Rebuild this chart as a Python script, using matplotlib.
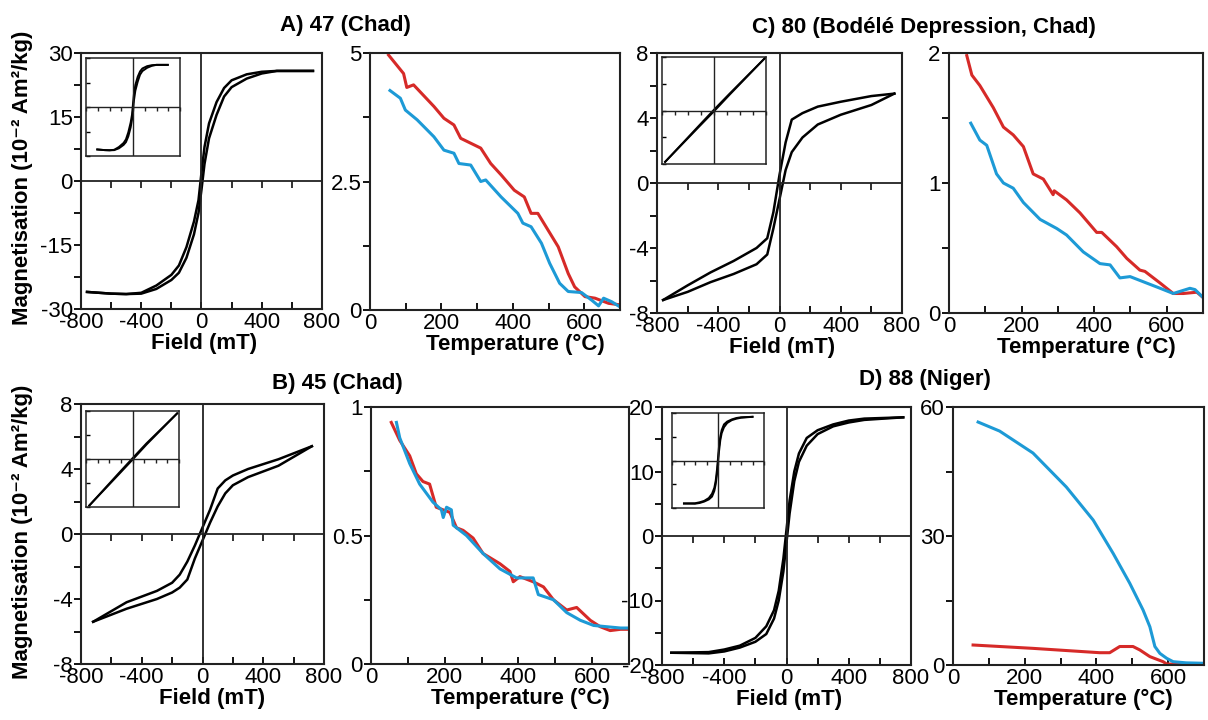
import matplotlib
matplotlib.use('Agg')
import matplotlib.pyplot as plt
from matplotlib.ticker import MultipleLocator, StrMethodFormatter, NullLocator

plt.rcParams['font.family'] = ['Liberation Sans', 'DejaVu Sans']
plt.rcParams['axes.unicode_minus'] = False

RED = '#d62a28'
BLUE = '#1d9ad6'

# ---------------- data: hysteresis loops (field mT, magnetisation 1e-2 Am2/kg) ----------
A_field = [-760, -600, -500, -400, -300, -200, -150, -100, -50, -20, 0, 20, 50, 100, 150, 200, 300, 400, 500, 740]
A_upper = [-26.0, -26.4, -26.5, -26.2, -24.5, -22.0, -19.8, -15.5, -9.5, -4.5, 2.0, 8.0, 13.5, 18.5, 21.8, 23.6, 25.0, 25.6, 25.8, 25.8]
A_lower = [-26.0, -26.4, -26.5, -26.4, -25.3, -23.2, -21.5, -18.0, -12.5, -7.5, -2.0, 4.0, 10.0, 15.5, 19.8, 22.0, 24.0, 25.2, 25.8, 25.8]

B_field = [-720, -500, -300, -200, -150, -100, -50, 0, 50, 100, 150, 200, 300, 500, 720]
B_upper = [-5.4, -4.2, -3.5, -3.0, -2.5, -1.7, -0.7, 0.4, 1.5, 2.8, 3.3, 3.6, 4.0, 4.6, 5.4]
B_lower = [-5.4, -4.6, -4.0, -3.6, -3.3, -2.8, -1.5, -0.4, 0.7, 1.7, 2.5, 3.0, 3.5, 4.2, 5.4]

C_field = [-760, -600, -450, -300, -150, -80, -40, 0, 40, 80, 150, 250, 400, 600, 750]
C_upper = [-7.2, -6.3, -5.5, -4.8, -4.0, -3.4, -1.8, 0.5, 2.5, 3.9, 4.3, 4.7, 5.0, 5.35, 5.5]
C_lower = [-7.2, -6.7, -6.1, -5.6, -5.0, -4.4, -2.8, -1.0, 0.8, 1.9, 2.8, 3.6, 4.2, 4.8, 5.5]

D_field = [-740, -500, -400, -300, -200, -130, -80, -50, -20, 0, 20, 50, 80, 130, 200, 300, 400, 500, 750]
D_upper = [-18.1, -18.0, -17.6, -17.0, -15.8, -14.0, -11.5, -8.5, -3.5, 1.0, 5.5, 10.0, 12.8, 15.2, 16.4, 17.3, 17.9, 18.2, 18.4]
D_lower = [-18.1, -18.2, -17.9, -17.3, -16.4, -15.2, -12.8, -10.0, -5.5, -1.0, 3.5, 8.5, 11.5, 14.0, 15.8, 17.0, 17.6, 18.0, 18.4]

# inset (uncorrected) loops, relative units
B_in_field = [-930, -300, 0, 300, 960]
B_in_upper = [-19.4, -6.0, 0.3, 6.5, 19.0]
B_in_lower = [-19.4, -6.5, -0.3, 6.0, 19.0]
C_in_field = [-940, -300, 0, 300, 980]
C_in_upper = [-19.2, -5.9, 0.3, 6.3, 19.6]
C_in_lower = [-19.2, -6.3, -0.3, 5.9, 19.6]

# ---------------- data: thermomagnetic curves (temperature C, magnetisation) -------------
A_red_T = [52, 94, 103, 122, 179, 207, 235, 254, 310, 338, 367, 404, 432, 451, 470, 527, 555, 573, 602, 630, 668, 700]
A_red_M = [4.96, 4.6, 4.33, 4.38, 3.96, 3.73, 3.6, 3.34, 3.15, 2.85, 2.63, 2.33, 2.2, 1.88, 1.88, 1.23, 0.71, 0.45, 0.26, 0.23, 0.13, 0.1]
A_blue_T = [56, 85, 99, 132, 179, 207, 235, 249, 282, 310, 324, 367, 414, 428, 451, 480, 503, 531, 555, 592, 621, 640, 654, 677, 700]
A_blue_M = [4.27, 4.12, 3.89, 3.7, 3.37, 3.11, 3.05, 2.85, 2.82, 2.5, 2.53, 2.2, 1.88, 1.69, 1.62, 1.3, 0.91, 0.52, 0.36, 0.34, 0.19, 0.08, 0.23, 0.16, 0.06]

B_red_T = [55, 78, 105, 123, 141, 159, 177, 214, 232, 250, 277, 304, 350, 377, 386, 404, 440, 468, 495, 531, 558, 595, 622, 649, 677, 700]
B_red_M = [0.94, 0.87, 0.81, 0.74, 0.71, 0.70, 0.61, 0.59, 0.53, 0.52, 0.49, 0.43, 0.39, 0.36, 0.32, 0.34, 0.32, 0.30, 0.25, 0.21, 0.22, 0.17, 0.145, 0.13, 0.135, 0.135]
B_blue_T = [69, 78, 105, 132, 168, 191, 196, 205, 218, 223, 259, 304, 350, 395, 440, 454, 495, 531, 568, 604, 640, 677, 700]
B_blue_M = [0.94, 0.88, 0.78, 0.70, 0.63, 0.60, 0.57, 0.61, 0.60, 0.54, 0.50, 0.43, 0.37, 0.335, 0.335, 0.27, 0.25, 0.20, 0.17, 0.15, 0.145, 0.14, 0.14]

C_red_T = [49, 63, 85, 122, 150, 177, 205, 232, 260, 287, 290, 324, 361, 407, 421, 462, 490, 526, 540, 582, 618, 646, 683, 700]
C_red_M = [1.98, 1.83, 1.75, 1.58, 1.43, 1.37, 1.28, 1.07, 1.03, 0.91, 0.94, 0.87, 0.77, 0.62, 0.62, 0.51, 0.42, 0.33, 0.32, 0.23, 0.15, 0.15, 0.16, 0.12]
C_blue_T = [60, 85, 104, 131, 150, 177, 205, 251, 297, 324, 370, 416, 444, 471, 499, 545, 582, 618, 664, 678, 700]
C_blue_M = [1.46, 1.33, 1.29, 1.07, 1.0, 0.96, 0.85, 0.72, 0.65, 0.6, 0.47, 0.38, 0.37, 0.27, 0.28, 0.23, 0.19, 0.15, 0.19, 0.18, 0.12]

D_red_T = [56, 223, 409, 437, 465, 502, 521, 549, 586, 596, 650, 700]
D_red_M = [4.65, 3.87, 2.86, 2.86, 4.3, 4.3, 3.5, 1.95, 0.77, 0.23, 0.2, 0.2]
D_blue_T = [70, 130, 223, 316, 391, 447, 493, 530, 549, 563, 577, 596, 614, 650, 700]
D_blue_M = [56.5, 54.4, 49.3, 41.4, 33.7, 25.9, 19.0, 12.8, 8.9, 4.3, 2.7, 1.55, 0.77, 0.5, 0.4]

titles = ['A) 47 (Chad)', 'B) 45 (Chad)', 'C) 80 (Bodélé Depression, Chad)', 'D) 88 (Niger)']
ylabel = 'Magnetisation (10⁻² Am²/kg)'

# ---------------- layout ---------------------------------------------------------------
W, H = 1208, 720
fig = plt.figure(figsize=(W / 100, H / 100), dpi=100)


def rect(l, r, t, b):
    return [l / W, 1 - b / H, (r - l) / W, (b - t) / H]


FS = 16
LW_SP = 1.5
fmt = StrMethodFormatter('{x:g}')


def style_spines(ax, lw):
    for s in ax.spines.values():
        s.set_linewidth(lw)
        s.set_color('#222222')


def zero_ticks(ax, step, length, lw):
    sec = ax.secondary_xaxis(0, transform=ax.transData)
    sec.set_alignment('bottom')
    sec.xaxis.set_major_locator(MultipleLocator(step))
    sec.tick_params(axis='x', direction='out', length=length, width=lw,
                    labelbottom=False, labeltop=False, color='#222222')
    for s in sec.spines.values():
        s.set_visible(False)


def hyst(pos, field, upper, lower, ylim, ystep, label_x):
    ax = fig.add_axes(pos)
    ax.plot(field, upper, color='black', lw=1.8, solid_joinstyle='round')
    ax.plot(field, lower, color='black', lw=1.8, solid_joinstyle='round')
    ax.axvline(0, color='#222222', lw=1.3)
    ax.axhline(0, color='#222222', lw=1.3)
    ax.set_xlim(-800, 800)
    ax.set_ylim(-ylim, ylim)
    ax.xaxis.set_major_locator(MultipleLocator(400))
    ax.xaxis.set_minor_locator(MultipleLocator(200))
    ax.yaxis.set_major_locator(MultipleLocator(ystep))
    ax.yaxis.set_minor_locator(MultipleLocator(ystep / 2))
    ax.xaxis.set_major_formatter(fmt)
    ax.yaxis.set_major_formatter(fmt)
    ax.tick_params(axis='x', which='both', direction='in', length=5, width=1.3, labelsize=FS, pad=2)
    ax.tick_params(axis='y', which='both', direction='out', length=5, width=1.3, labelsize=FS, pad=1)
    ax.set_xlabel('Field (mT)', fontsize=FS, fontweight='bold', labelpad=0)
    ax.xaxis.label.set_x(label_x)
    style_spines(ax, LW_SP)
    zero_ticks(ax, 200, 5, 1.3)
    return ax


def inset(pos, field, upper, lower, ylim):
    ax = fig.add_axes(pos)
    ax.plot(field, upper, color='black', lw=1.4)
    ax.plot(field, lower, color='black', lw=1.4)
    ax.axvline(0, color='#222222', lw=1.0)
    ax.axhline(0, color='#222222', lw=1.0)
    ax.set_xlim(-1000, 1000)
    ax.set_ylim(-ylim, ylim)
    ax.xaxis.set_major_locator(NullLocator())
    ax.yaxis.set_major_locator(MultipleLocator(ylim / 2))
    ax.tick_params(axis='y', direction='in', length=3, width=1.0, labelleft=False)
    style_spines(ax, 1.1)
    zero_ticks(ax, 250, 3, 1.0)
    return ax


def thermo(pos, tr, mr, tb, mb, ymax, label_x):
    ax = fig.add_axes(pos)
    ax.plot(tr, mr, color=RED, lw=2.2)
    ax.plot(tb, mb, color=BLUE, lw=2.2)
    ax.set_xlim(0, 700)
    ax.set_ylim(0, ymax)
    ax.xaxis.set_major_locator(MultipleLocator(200))
    ax.xaxis.set_minor_locator(MultipleLocator(100))
    ax.yaxis.set_major_locator(MultipleLocator(ymax / 2))
    ax.yaxis.set_minor_locator(MultipleLocator(ymax / 4))
    ax.xaxis.set_major_formatter(fmt)
    ax.yaxis.set_major_formatter(fmt)
    ax.tick_params(axis='x', which='both', direction='in', length=5, width=1.3, labelsize=FS, pad=2)
    ax.tick_params(axis='y', which='both', direction='out', length=5, width=1.3, labelsize=FS, pad=1)
    ax.set_xlabel('Temperature (°C)', fontsize=FS, fontweight='bold', labelpad=0)
    ax.xaxis.label.set_x(label_x)
    style_spines(ax, LW_SP)
    return ax


# Panel A
hyst(rect(81, 322, 53, 309), A_field, A_upper, A_lower, 30, 15, 0.51)
inset(rect(86, 180, 58, 156), A_field, A_upper, A_lower, 30)
thermo(rect(370, 620, 53, 310), A_red_T, A_red_M, A_blue_T, A_blue_M, 5, 0.58)

# Panel C
hyst(rect(657, 902, 53, 313), C_field, C_upper, C_lower, 8, 4, 0.51)
inset(rect(662, 766, 57, 164), C_in_field, C_in_upper, C_in_lower, 20)
thermo(rect(949, 1203, 53, 313), C_red_T, C_red_M, C_blue_T, C_blue_M, 2, 0.54)

# Panel B
hyst(rect(81, 324, 404, 664), B_field, B_upper, B_lower, 8, 4, 0.54)
inset(rect(86, 179, 411, 507), B_in_field, B_in_upper, B_in_lower, 20)
thermo(rect(371, 629, 407, 664), B_red_T, B_red_M, B_blue_T, B_blue_M, 1, 0.58)

# Panel D
hyst(rect(662, 911, 407, 665), D_field, D_upper, D_lower, 20, 10, 0.51)
inset(rect(672, 764, 413, 508), D_field, D_upper, D_lower, 20)
thermo(rect(953, 1204, 407, 665), D_red_T, D_red_M, D_blue_T, D_blue_M, 60, 0.52)

# Titles
fig.text(345 / W, 1 - 25 / H, titles[0], fontsize=FS, fontweight='bold', ha='center', va='center')
fig.text(924 / W, 1 - 27 / H, titles[2], fontsize=FS, fontweight='bold', ha='center', va='center')
fig.text(337 / W, 1 - 384 / H, titles[1], fontsize=FS, fontweight='bold', ha='center', va='center')
fig.text(925 / W, 1 - 380 / H, titles[3], fontsize=FS, fontweight='bold', ha='center', va='center')

# Y labels
fig.text(23 / W, 1 - 178 / H, ylabel, fontsize=FS, fontweight='bold', rotation=90, ha='center', va='center')
fig.text(23 / W, 1 - 532 / H, ylabel, fontsize=FS, fontweight='bold', rotation=90, ha='center', va='center')

fig.savefig('out.png', dpi=100)
